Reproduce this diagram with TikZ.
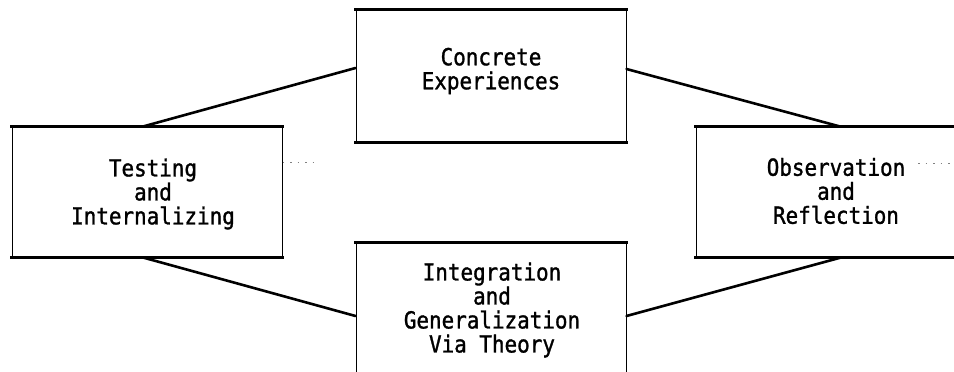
\documentclass[tikz,border=0pt]{standalone}
\usepackage{fontspec}
\newfontfamily\termfont[FakeStretch=0.89,FakeBold=1.2]{DejaVu Sans Mono}
\begin{document}
\begin{tikzpicture}[x=1pt,y=-1pt,
  panel/.style={draw=black, line width=1pt, inner sep=0pt},
  rule/.style={line width=2.6pt, line cap=rect},
  link/.style={line width=2.6pt, line cap=round},
  trace/.style={draw=black!50, line width=1pt, dash pattern=on 1.5pt off 6pt},
  caption/.style={font=\termfont\fontsize{23.5}{24}\selectfont, align=center, inner sep=0pt}]
\useasboundingbox (0,0) rectangle (954,372);
\fill[white] (0,0) rectangle (954,372);
\clip (0,0) rectangle (954,372);

% the four stages of the cycle
\node[panel, minimum width=270pt, minimum height=132pt] (ce) at (491,76) {};
\node[panel, minimum width=270pt, minimum height=130pt] (ti) at (147,192) {};
\node[panel, minimum width=270pt, minimum height=130pt] (or) at (831,192) {};
\node[panel, minimum width=270pt, minimum height=132pt] (ig) at (491,309) {};

% heavier top and bottom rules
\foreach \b in {ce,ti,or,ig}{
  \draw[rule] (\b.north west) -- (\b.north east);
  \draw[rule] (\b.south west) -- (\b.south east);
}

% connectors between the stages
\draw[link] ([yshift=8pt]ce.west) -- ([xshift=-4pt]ti.north);
\draw[link] ([yshift=7pt]ce.east) -- ([xshift=9pt]or.north);
\draw[link] ([xshift=-4pt]ti.south) -- ([yshift=-7pt]ig.west);
\draw[link] ([yshift=-7pt]ig.east) -- ([xshift=10pt]or.south);

% faint dotted traces
\coordinate (lt) at (318,162);
\draw[trace] ([yshift=30pt]ti.east) -- (lt);
\coordinate (ra) at (918,163);
\coordinate (rb) at (954,163);
\draw[trace] (ra) -- (rb);

% labels
\node[caption] (ceT) at (491,71) {Concrete\\Experiences};
\node[caption] (tiT) at (153,194) {Testing\\and\\Internalizing};
\node[caption] (orT) at (836,191) {Observation\\and\\Reflection};
\node[caption] (igT) at (492,310) {Integration\\and\\Generalization\\Via Theory};
\end{tikzpicture}
\end{document}
